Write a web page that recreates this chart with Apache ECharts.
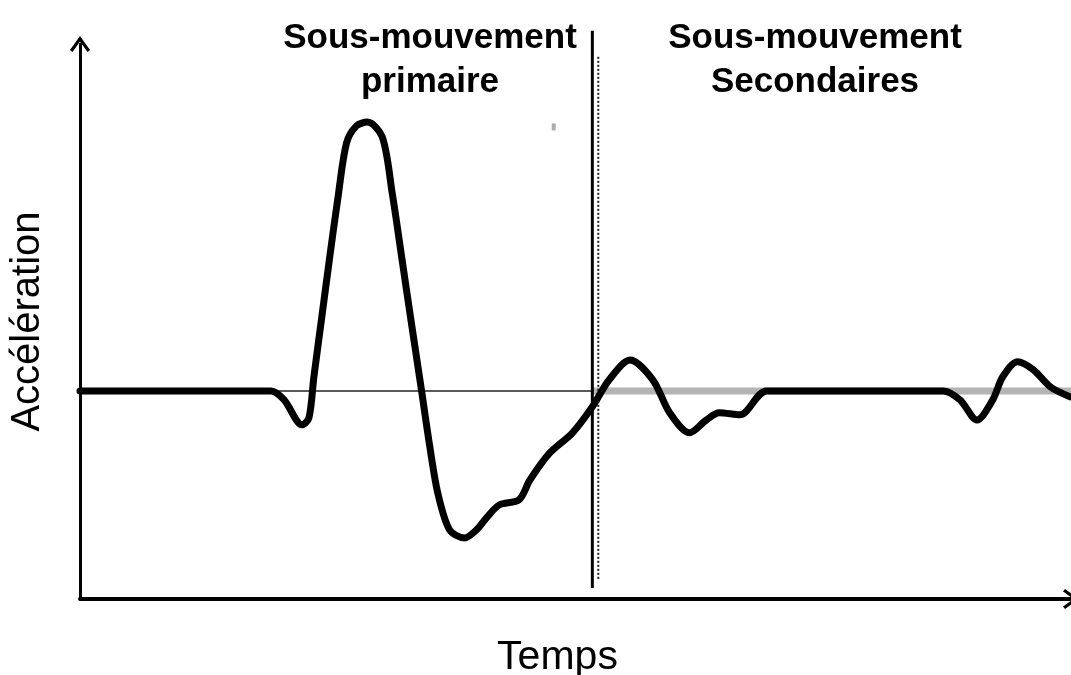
<!DOCTYPE html>
<html lang="fr">
<head>
    <meta charset="UTF-8">
    <title>Sous-mouvements</title>
    <script src="https://cdn.jsdelivr.net/npm/echarts@6/dist/echarts.min.js"></script>
    <style>
        html, body { margin: 0; padding: 0; background: #fff; }
    </style>
</head>
<body>
<div id="main" style="width: 1071px;height:675px;"></div>

<script type="text/javascript">
    // temps (unités arbitraires 0..100) et accélération
    var temps = [0, 19.3, 20.6, 22.4, 23.1, 23.6, 24.4, 25.2, 26.0, 26.9, 27.9, 29.0, 30.5, 31.5, 32.5, 33.5, 34.5, 35.3, 36.1, 37.3, 38.8,
        40.0, 41.1, 42.3, 44.3, 45.4, 47.4, 49.7, 51.7, 53.4, 55.5, 57.8, 59.5, 61.5, 63.2, 64.5, 66.6, 69.3,
        87.1, 88.8, 90.5, 92.1, 93.1, 94.6, 96.2, 97.9, 99.9];
    var acceleration = [0, 0, -0.26, -0.98, -0.78, 0.40, 2.13, 3.86, 5.51, 7.15, 7.64, 7.75, 7.32, 5.71, 3.78, 1.84, -0.06, -1.61, -2.94, -4.01, -4.24,
        -4.01, -3.63, -3.29, -3.14, -2.57, -1.79, -1.21, -0.46, 0.32, 0.89, 0.32, -0.63, -1.21, -0.84, -0.63, -0.69, 0,
        0, -0.26, -0.84, -0.26, 0.40, 0.84, 0.61, 0.12, -0.17];

    // limite entre les deux phases (trait plein) et repère pointillé
    var limite = 51.7;
    var repere = 52.3;
    var titres = ['Sous-mouvement\nprimaire', 'Sous-mouvement\nSecondaires'];
    var tache = [[47.8, 7.61]];

    var courbe = [];
    for (var i = 0; i < temps.length; i++) {
        courbe.push([temps[i], acceleration[i]]);
    }

    // flèche ouverte en chevron
    var fleche = 'path://M0,14 L10,0 L20,14 L17.5,16 L10,5.5 L2.5,16 Z';

    var myChart = echarts.init(document.getElementById('main'));
    var option = {
        animation: false,
        backgroundColor: '#fff',
        title: [
            {
                text: titres[0], left: 425, top: 11, textAlign: 'center',
                textStyle: {fontFamily: 'Liberation Sans', fontSize: 35, fontWeight: 'bold', color: '#000', lineHeight: 44}
            },
            {
                text: titres[1], left: 810, top: 11, textAlign: 'center',
                textStyle: {fontFamily: 'Liberation Sans', fontSize: 35, fontWeight: 'bold', color: '#000', lineHeight: 44}
            }
        ],
        grid: {left: 80, right: 0, top: 44, bottom: 76, outerBoundsMode: 'none'},
        xAxis: {
            type: 'value', min: 0, max: 100,
            name: 'Temps', nameLocation: 'middle', nameGap: 38,
            nameTextStyle: {fontFamily: 'Liberation Sans', fontSize: 41, color: '#000', padding: [0, 36, 0, 0]},
            axisLine: {
                onZero: false,
                lineStyle: {color: '#000', width: 4},
                symbol: ['none', fleche], symbolSize: [20, 16]
            },
            axisTick: {show: false}, axisLabel: {show: false}, splitLine: {show: false}
        },
        yAxis: {
            type: 'value', min: -6, max: 10,
            name: 'Accélération', nameLocation: 'middle', nameGap: 32, nameRotate: 90,
            nameTextStyle: {fontFamily: 'Liberation Sans', fontSize: 40, color: '#000'},
            axisLine: {
                onZero: false,
                lineStyle: {color: '#000', width: 3},
                symbol: ['none', fleche], symbolSize: [20, 16]
            },
            axisTick: {show: false}, axisLabel: {show: false}, splitLine: {show: false}
        },
        series: [
            {
                name: 'base gauche', type: 'line', symbol: 'none', silent: true,
                data: [[0, 0], [limite, 0]],
                lineStyle: {color: '#5a5a5a', width: 2}
            },
            {
                name: 'base droite', type: 'line', symbol: 'none', silent: true,
                data: [[limite, 0], [100, 0]],
                lineStyle: {color: '#b4b4b4', width: 7}
            },
            {
                name: 'repère', type: 'line', symbol: 'none', silent: true, clip: false,
                data: [[repere, 9.63], [repere, -5.45]],
                lineStyle: {color: '#222', width: 2, type: [2, 2]}
            },
            {
                name: 'limite', type: 'line', symbol: 'none', silent: true, clip: false,
                data: [[limite, 10.38], [limite, -5.68]],
                lineStyle: {color: '#000', width: 3}
            },
            {
                name: 'tache', type: 'scatter', symbol: 'rect', symbolSize: [4, 7], silent: true,
                data: tache,
                itemStyle: {color: '#999'}
            },
            {
                name: 'accélération', type: 'line', symbol: 'none', smooth: 0.3, clip: false,
                data: courbe,
                lineStyle: {color: '#000', width: 7, cap: 'round', join: 'round'}
            }
        ]
    };
    myChart.setOption(option);
</script>
</body>
</html>
